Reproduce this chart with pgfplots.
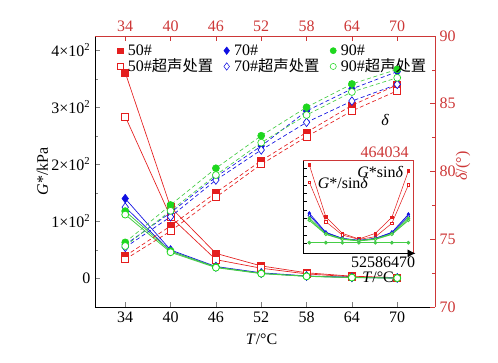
\documentclass[border=0pt]{standalone}
\usepackage{pgfplots}
\pgfplotsset{compat=1.18}
\usepackage{fontspec}
\setmainfont{Liberation Serif}
\newfontfamily\cjk{Noto Sans CJK SC}
\usetikzlibrary{arrows.meta}
\definecolor{axred}{RGB}{205,55,55}
\definecolor{mred}{RGB}{228,30,30}
\definecolor{mblue}{RGB}{15,15,225}
\definecolor{mgreen}{RGB}{30,215,30}
\definecolor{lgreen}{RGB}{70,205,70}
\begin{document}
\begin{tikzpicture}
\useasboundingbox (0,0) rectangle (373.5pt,271.5pt);
\pgfplotsset{
  common/.style={
    at={(71.25pt,41.25pt)}, anchor=south west, scale only axis,
    width=255pt, height=203.25pt,
    xmin=30, xmax=75,
    xtick={34,40,...,70},
    tick align=inside,
    major tick length=4pt, minor tick length=2.5pt,
    font=\fontsize{12}{14}\selectfont,
    /pgf/number format/assume math mode=true,
    clip=false,
  },
}
% ---------- G* axis (left / bottom) ----------
\begin{axis}[common,
  axis x line*=bottom, axis y line*=left,
  ymin=-50, ymax=425,
  ytick={0,100,200,300,400},
  minor ytick={-50,50,150,250,350},
  yticklabels={0,1×10\textsuperscript{2},2×10\textsuperscript{2},3×10\textsuperscript{2},4×10\textsuperscript{2}},
  xlabel={\textit{T}/°C},
  every axis x label/.style={at={(axis description cs:0.49,-0.12)},anchor=center},
  ylabel={\textit{G}*/kPa},
  every axis y label/.style={at={(axis description cs:-0.155,0.5)},rotate=90,anchor=center},
]
\addplot[mred, line width=0.5pt, mark=square*, mark size=2.6pt] coordinates {(34,361)(40,125)(46,44)(52,22)(58,10)(64,4)(70,1.5)};
\addplot[mred, line width=0.5pt, mark=square*, mark size=2.6pt, mark options={fill=white}] coordinates {(34,284)(40,108)(46,33)(52,18)(58,8)(64,3)(70,1)};
\addplot[mblue, line width=0.5pt, mark=diamond*, mark size=3.2pt] coordinates {(34,140)(40,50)(46,21)(52,10)(58,4.5)(64,2)(70,1)};
\addplot[mblue, line width=0.5pt, mark=diamond*, mark size=3.2pt, mark options={fill=white}] coordinates {(34,125)(40,48)(46,20)(52,9)(58,4)(64,1.8)(70,0.8)};
\addplot[lgreen, line width=0.6pt, mark=*, mark size=2.6pt, mark options={mgreen}] coordinates {(34,118)(40,48)(46,20)(52,9)(58,4)(64,1.8)(70,0.8)};
\addplot[lgreen, line width=0.6pt, mark=*, mark size=2.6pt, mark options={draw=mgreen,fill=white}] coordinates {(34,112)(40,46)(46,19)(52,8.5)(58,3.7)(64,1.6)(70,0.7)};
\node at (axis cs:68.4,277) {\textit{δ}};
\end{axis}
% ---------- delta axis (right / top) ----------
\begin{axis}[common,
  axis x line*=top, axis y line*=right,
  axis line style={axred}, every tick/.style={axred},
  ticklabel style={axred},
  ymin=70, ymax=90,
  ytick={70,75,...,90},
  minor ytick={72.5,77.5,82.5,87.5},
  ylabel={\textit{δ}/(°)},
  every axis y label/.style={at={(axis description cs:1.082,0.52)},rotate=90,anchor=center,axred},
  legend columns=3,
  legend cell align=left,
  legend style={at={(0.054,0.98)}, anchor=north west, draw=none, fill=none,
    font=\fontsize{12}{12}\selectfont, text=black,
    nodes={inner xsep=3.5pt, inner ysep=0pt}, row sep=1.5pt,
    /tikz/every even column/.append style={column sep=4.5pt}},
]
\addplot[forget plot, mred, densely dashed, line width=0.5pt, mark=square*, mark size=2.6pt, mark options={solid}] coordinates {(34,73.76)(40,75.98)(46,78.44)(52,80.8)(58,82.89)(64,84.88)(70,86.4)};
\addplot[forget plot, mred, densely dashed, line width=0.5pt, mark=square*, mark size=2.6pt, mark options={solid,fill=white}] coordinates {(34,73.52)(40,75.6)(46,78.1)(52,80.53)(58,82.57)(64,84.47)(70,85.96)};
\addplot[forget plot, mblue, densely dashed, line width=0.5pt, mark=diamond*, mark size=3.2pt, mark options={solid}] coordinates {(34,74.6)(40,76.96)(46,79.6)(52,81.88)(58,84.47)(64,86.1)(70,87.37)};
\addplot[forget plot, mblue, densely dashed, line width=0.5pt, mark=diamond*, mark size=3.2pt, mark options={solid,fill=white}] coordinates {(34,74.4)(40,76.66)(46,79.37)(52,81.59)(58,83.63)(64,85.2)(70,86.43)};
\addplot[forget plot, lgreen, densely dashed, line width=0.5pt, mark=*, mark size=2.6pt, mark options={solid,mgreen}] coordinates {(34,74.77)(40,77.53)(46,80.24)(52,82.64)(58,84.74)(64,86.46)(70,87.54)};
\addplot[forget plot, lgreen, densely dashed, line width=0.5pt, mark=*, mark size=2.6pt, mark options={solid,draw=mgreen,fill=white}] coordinates {(34,74.5)(40,77.1)(46,79.74)(52,82.13)(58,84.17)(64,85.87)(70,86.92)};
\addlegendimage{only marks, mark=square*, mark size=2.1pt, mred}
\addlegendentry{50\#}
\addlegendimage{only marks, mark=diamond*, mark size=2.8pt, mblue}
\addlegendentry{70\#}
\addlegendimage{only marks, mark=*, mark size=2.3pt, mgreen}
\addlegendentry{90\#}
\addlegendimage{only marks, mark=square*, mark size=2.1pt, mred, mark options={fill=white}}
\addlegendentry{50\#{\cjk\fontsize{11.5}{12}\selectfont 超声处置}}
\addlegendimage{only marks, mark=diamond*, mark size=2.8pt, mblue, mark options={fill=white}}
\addlegendentry{70\#{\cjk\fontsize{11.5}{12}\selectfont 超声处置}}
\addlegendimage{only marks, mark=*, mark size=2.3pt, mgreen, mark options={fill=white}}
\addlegendentry{90\#{\cjk\fontsize{11.5}{12}\selectfont 超声处置}}
\end{axis}
% ---------- inset ----------
\begin{axis}[at={(227.5pt,81.5pt)}, anchor=south west, scale only axis,
  width=82.5pt, height=69.5pt,
  xmin=0.636, xmax=7.3, ymin=0, ymax=92.6,
  axis background/.style={fill=white},
  axis line style={draw=none},
  xtick=\empty,
  ytick={10,18.33,...,90}, yticklabels={},
  tick align=inside, major tick length=2.5pt,
  ytick pos=left, every tick/.style={black},
  font=\fontsize{12}{14}\selectfont,
  clip=false,
]
\addplot[mred, line width=0.4pt, mark=square*, mark size=1pt] coordinates {(1,88.3)(2,36.3)(3,20)(4,14.3)(5,20)(6,36)(7,82.3)};
\addplot[mred, line width=0.4pt, mark=square*, mark size=1pt, mark options={fill=white}] coordinates {(1,71)(2,31.6)(3,18.3)(4,14)(5,16.6)(6,30)(7,68.3)};
\addplot[mblue, line width=0.5pt, mark=diamond*, mark size=1.3pt] coordinates {(1,40)(2,21)(3,15)(4,13)(5,15)(6,21)(7,39)};
\addplot[mblue, line width=0.5pt, mark=diamond*, mark size=1.3pt, mark options={fill=white}] coordinates {(1,38)(2,20.5)(3,14.8)(4,12.8)(5,14.8)(6,20.5)(7,37)};
\addplot[lgreen, line width=0.7pt, mark=*, mark size=1pt] coordinates {(1,35)(2,19.5)(3,14.5)(4,12.6)(5,14.5)(6,19.5)(7,35)};
\addplot[lgreen, line width=0.7pt, mark=*, mark size=1pt, mark options={fill=white}] coordinates {(1,33)(2,19)(3,14)(4,12.5)(5,14)(6,19)(7,33)};
\addplot[mblue, line width=0.5pt, mark=*, mark size=0.8pt] coordinates {(1,10.8)(2,10.8)(3,10.8)(4,10.8)(5,10.8)(6,10.8)(7,10.8)};
\addplot[lgreen, line width=0.8pt, mark=*, mark size=1pt] coordinates {(1,10.6)(2,10.6)(3,10.6)(4,10.6)(5,10.6)(6,10.6)(7,10.6)};
\draw[black, line width=0.6pt] (rel axis cs:0,1) -- (rel axis cs:0,0) -- (rel axis cs:1,0);
\draw[axred, line width=0.6pt] (rel axis cs:0,1) -- (rel axis cs:1,1) -- (rel axis cs:1,0);
\draw[black, line width=0.6pt, -{Latex[length=6pt,width=6pt]}] (rel axis cs:0.85,0) -- (rel axis cs:1.02,0);
\node[axred] at (rel axis cs:0.74,1.09) {464034};
\node at (rel axis cs:0.725,-0.095) {52586470};
\node at (rel axis cs:0.68,-0.256) {\textit{T}/°C};
\node at (rel axis cs:0.70,0.88) {\textit{G}*sin\textit{δ}};
\node at (rel axis cs:0.36,0.76) {\textit{G}*/sin\textit{δ}};
\end{axis}
\end{tikzpicture}
\end{document}
